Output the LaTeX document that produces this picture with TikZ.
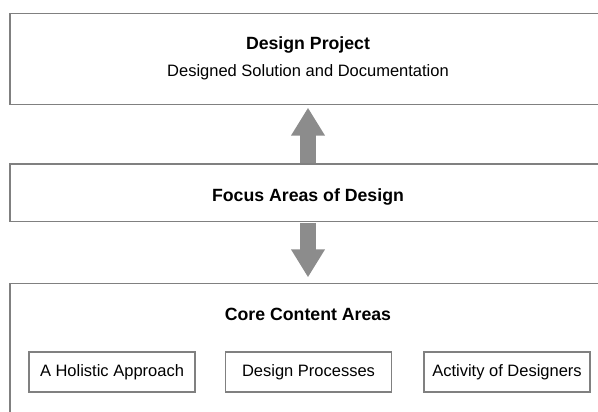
\documentclass[tikz,border=0pt]{standalone}
\usepackage{fontspec}
\setmainfont{Liberation Sans}
\usetikzlibrary{arrows.meta}
\definecolor{boxline}{HTML}{808080}
\definecolor{arrowgray}{HTML}{8C8C8C}
\tikzset{
  panel/.style={draw=boxline, line width=1.3pt, fill=white, inner sep=0pt},
  smallbox/.style={draw=boxline, line width=1.2pt, fill=white, minimum width=166pt, minimum height=40pt, inner sep=0pt,
    font=\fontsize{16.5}{19}\selectfont},
  titletext/.style={anchor=base, inner sep=0pt, font=\fontsize{17.7}{20}\selectfont\bfseries},
  subtext/.style={anchor=base, inner sep=0pt, font=\fontsize{16.5}{19}\selectfont},
  bigarrow/.style={draw=arrowgray, line width=16pt, -{Triangle[length=28pt,width=32pt]}, arrowgray}
}
\begin{document}
\begin{tikzpicture}[x=1pt,y=-1pt]
\useasboundingbox (0,0) rectangle (598,412);
\clip (0,0) rectangle (598,412);
% panels
\node[panel, minimum width=596pt, minimum height=91pt] (top) at (308,59) {};
\node[panel, minimum width=596pt, minimum height=57.5pt] (mid) at (308,192.75) {};
\node[panel, minimum width=596pt, minimum height=140pt] (bot) at (308,353.5) {};
% texts
\node[titletext] (toptitle) at (308,49.3) {Design Project};
\node[subtext] (topsub) at (308,76.5) {Designed Solution and Documentation};
\node[titletext] (midtitle) at (308,201) {Focus Areas of Design};
\node[titletext] (bottitle) at (308,320.5) {Core Content Areas};
% small boxes
\node[smallbox] (holistic) at (112,372) {A Holistic Approach};
\node[smallbox] (processes) at (308.5,372) {Design Processes};
\node[smallbox] (activity) at (507,372) {Activity of Designers};
% arrows
\draw[bigarrow, shorten <=0.7pt, shorten >=2.5pt] (mid.north) -- (top.south);
\draw[bigarrow, shorten <=0.7pt, shorten >=5.5pt] (mid.south) -- (bot.north);
\end{tikzpicture}
\end{document}
